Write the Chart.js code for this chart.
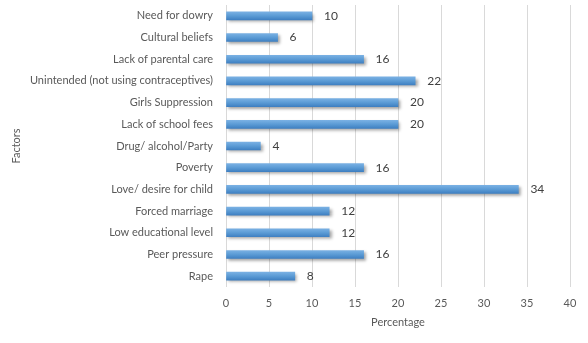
<!DOCTYPE html>
<html>
<head>
<meta charset="utf-8">
<script src="https://cdn.jsdelivr.net/npm/chart.js@4"></script>
<style>
  html, body { margin: 0; padding: 0; background: #fff; }
  #wrap { width: 588px; height: 343px; }
</style>
</head>
<body>
<div id="wrap"><canvas id="factorsChart"></canvas></div>
<script>
// data (top to bottom)
const factors = [
  'Need for dowry',
  'Cultural beliefs',
  'Lack of parental care',
  'Unintended (not using contraceptives)',
  'Girls Suppression',
  'Lack of school fees',
  'Drug/ alcohol/Party',
  'Poverty',
  'Love/ desire for child',
  'Forced marriage',
  'Low educational level',
  'Peer pressure',
  'Rape'
];
const percentages = [10, 6, 16, 22, 20, 20, 4, 16, 34, 12, 12, 16, 8];
const xTicks = [0, 5, 10, 15, 20, 25, 30, 35, 40];

const textColor = '#595959';
const fontFamily = 'Lato, "Open Sans", sans-serif';
const fontSize = 11;
const barHeight = 8;

// soft drop shadow under the bars, like the Excel original
const barShadow = {
  id: 'barShadow',
  beforeDatasetsDraw(chart) {
    const ctx = chart.ctx;
    ctx.save();
    ctx.shadowColor = 'rgba(0,0,0,0.35)';
    ctx.shadowBlur = 3;
    ctx.shadowOffsetX = 2;
    ctx.shadowOffsetY = 2;
  },
  afterDatasetsDraw(chart) {
    chart.ctx.restore();
  }
};

// value labels to the right of each bar
const valueLabels = {
  id: 'valueLabels',
  afterDatasetsDraw(chart) {
    const ctx = chart.ctx;
    const meta = chart.getDatasetMeta(0);
    ctx.save();
    ctx.font = '12px ' + fontFamily;
    ctx.fillStyle = '#404040';
    ctx.textAlign = 'left';
    ctx.textBaseline = 'middle';
    meta.data.forEach((bar, i) => {
      ctx.fillText(String(percentages[i]), bar.x + 12, bar.y);
    });
    ctx.restore();
  }
};

// light-to-dark vertical gradient on each bar
function barGradient(c) {
  const chart = c.chart;
  const yScale = chart.scales.y;
  if (!yScale || c.dataIndex === undefined) return '#5B9BD5';
  const y = yScale.getPixelForValue(c.dataIndex);
  if (!isFinite(y)) return '#5B9BD5';
  const g = chart.ctx.createLinearGradient(0, y - barHeight / 2, 0, y + barHeight / 2);
  g.addColorStop(0, '#79b0e3');
  g.addColorStop(0.5, '#5b9bd5');
  g.addColorStop(1, '#3f80c2');
  return g;
}

const ctx = document.getElementById('factorsChart').getContext('2d');
const factorsChart = new Chart(ctx, {
  type: 'bar',
  data: {
    labels: factors,
    datasets: [{
      data: percentages,
      backgroundColor: barGradient,
      borderWidth: 0,
      barThickness: barHeight
    }]
  },
  plugins: [barShadow, valueLabels],
  options: {
    indexAxis: 'y',
    responsive: true,
    maintainAspectRatio: false,
    animation: false,
    layout: { padding: { top: 5, right: 18, bottom: 14, left: 10 } },
    plugins: {
      legend: { display: false },
      tooltip: { enabled: false }
    },
    scales: {
      x: {
        min: 0,
        max: 40,
        afterBuildTicks: scale => { scale.ticks = xTicks.map(v => ({ value: v })); },
        afterFit: scale => { scale.height = 42; },
        grid: { color: '#d9d9d9', drawTicks: false },
        border: { display: false },
        ticks: {
          padding: 10,
          color: textColor,
          font: { family: fontFamily, size: fontSize }
        },
        title: {
          display: true,
          text: 'Percentage',
          color: textColor,
          font: { family: fontFamily, size: fontSize },
          padding: { top: 3, bottom: 0 }
        }
      },
      y: {
        afterFit: scale => {
          scale.width = 216;
          scale.paddingTop = 0;
          scale.paddingBottom = 0;
        },
        grid: { display: false, drawTicks: false },
        border: { display: false },
        ticks: {
          padding: 13,
          color: textColor,
          font: { family: fontFamily, size: fontSize }
        },
        title: {
          display: true,
          text: 'Factors',
          color: textColor,
          font: { family: fontFamily, size: fontSize },
          padding: { top: 0, bottom: 0 }
        }
      }
    }
  }
});
</script>
</body>
</html>
